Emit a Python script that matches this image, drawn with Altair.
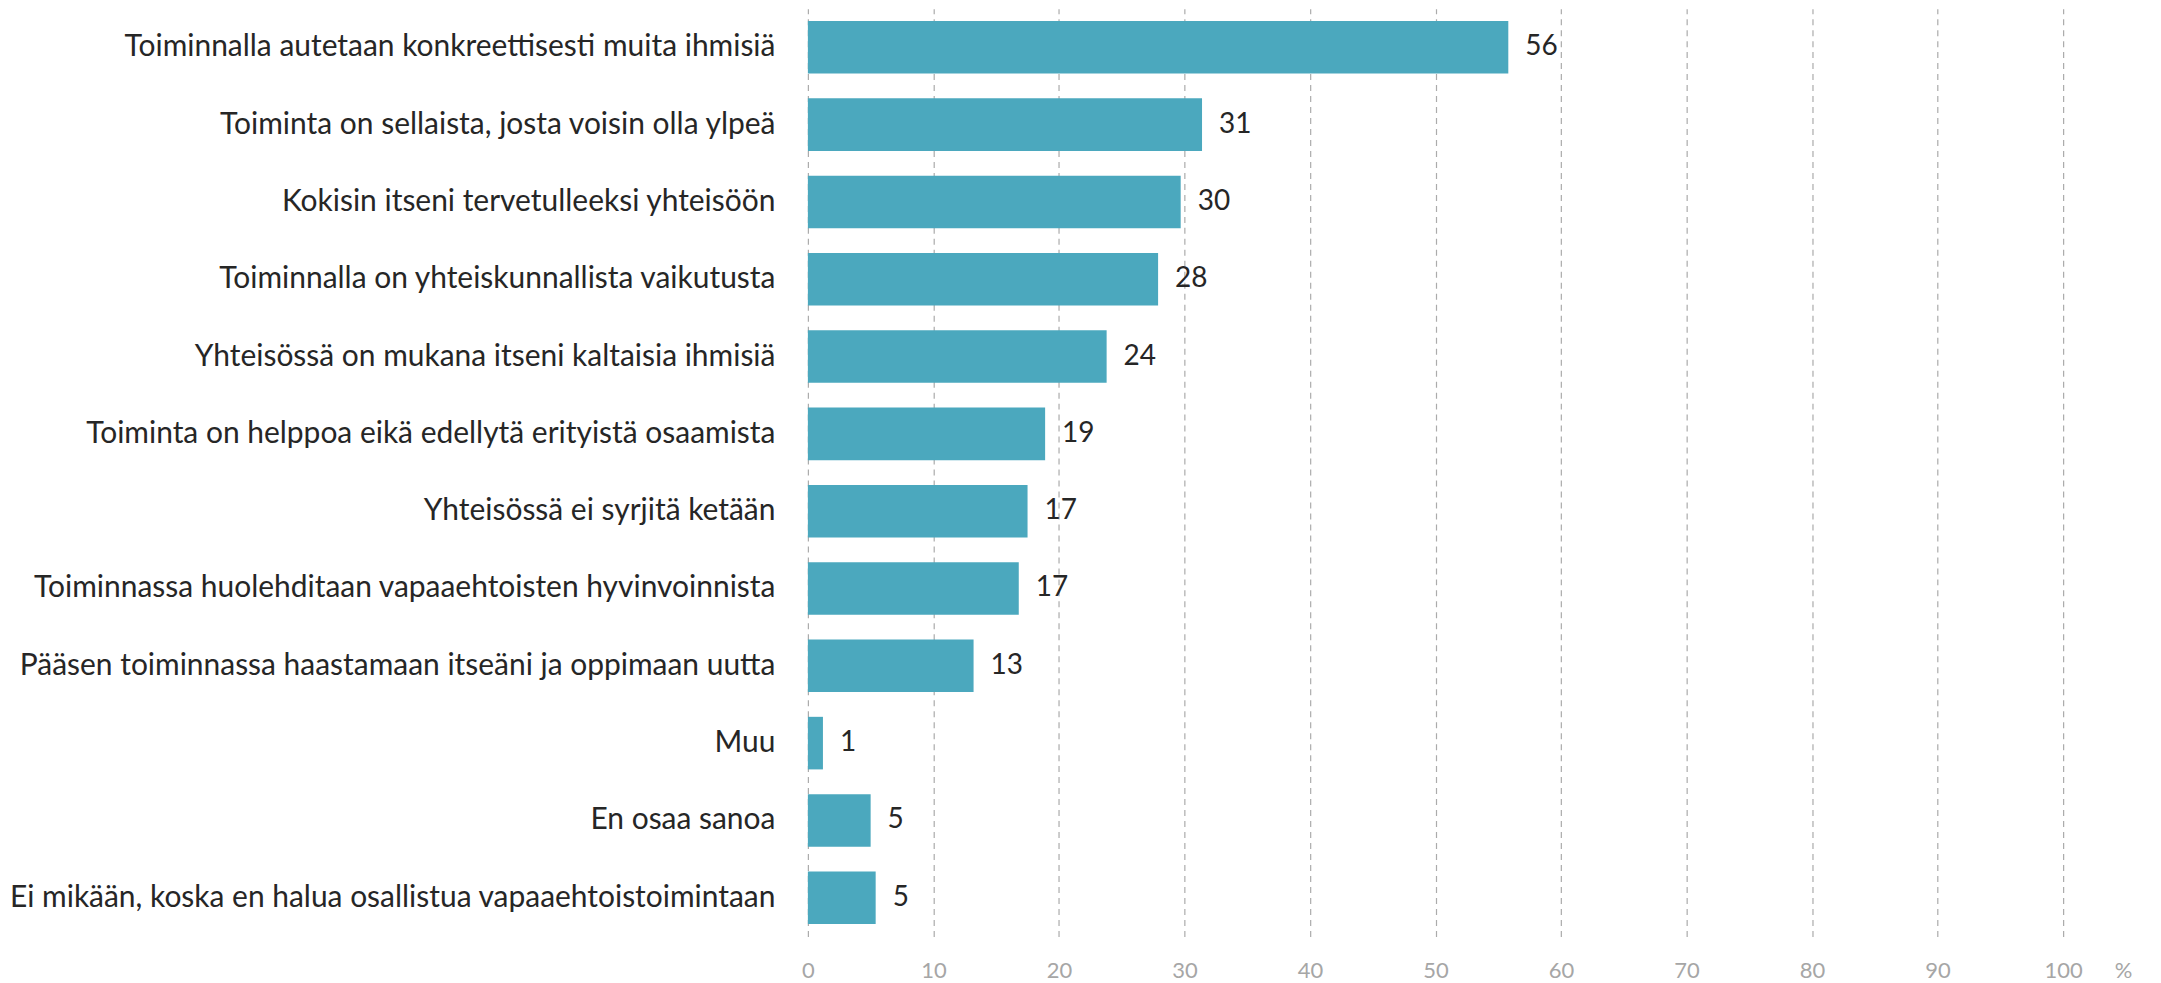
import altair as alt
import pandas as pd

categories = [
    "Toiminnalla autetaan konkreettisesti muita ihmisiä",
    "Toiminta on sellaista, josta voisin olla ylpeä",
    "Kokisin itseni tervetulleeksi yhteisöön",
    "Toiminnalla on yhteiskunnallista vaikutusta",
    "Yhteisössä on mukana itseni kaltaisia ihmisiä",
    "Toiminta on helppoa eikä edellytä erityistä osaamista",
    "Yhteisössä ei syrjitä ketään",
    "Toiminnassa huolehditaan vapaaehtoisten hyvinvoinnista",
    "Pääsen toiminnassa haastamaan itseäni ja oppimaan uutta",
    "Muu",
    "En osaa sanoa",
    "Ei mikään, koska en halua osallistua vapaaehtoistoimintaan",
]
values = [55.8, 31.4, 29.7, 27.9, 23.8, 18.9, 17.5, 16.8, 13.2, 1.2, 5.0, 5.4]
labels = ["56", "31", "30", "28", "24", "19", "17", "17", "13", "1", "5", "5"]
x_ticks = [0, 10, 20, 30, 40, 50, 60, 70, 80, 90, 100]

df = pd.DataFrame({"cat": categories, "val": values, "lab": labels})

FONT = "Lato"

y_axis = alt.Axis(
    ticks=False, domain=False, grid=False, labelPadding=33, labelLimit=0,
    labelFont=FONT, labelFontSize=30, labelColor="#262626",
)
x_axis = alt.Axis(
    values=x_ticks, ticks=False, domain=False, grid=True, labelFlush=False,
    gridDash=[6, 5], gridColor="#ababab", gridWidth=1.2,
    labelFont=FONT, labelFontSize=22, labelColor="#a6a6a6",
    labelPadding=34, labelBaseline="middle",
    title="%", titleFont=FONT, titleFontSize=22, titleColor="#a6a6a6",
    titleFontWeight="normal", titleX=1317, titleY=34, titleBaseline="middle",
    titleAlign="center",
)

x_enc = alt.X("val:Q", scale=alt.Scale(domain=[0, 100], nice=False), axis=x_axis)
y_enc = alt.Y(
    "cat:N", sort=categories, title=None,
    scale=alt.Scale(paddingInner=0.32, paddingOuter=0.16), axis=y_axis,
)

bars = alt.Chart(df).mark_bar(color="#4ba8be").encode(x=x_enc, y=y_enc)
text = alt.Chart(df).mark_text(
    align="left", baseline="middle", dx=17, font=FONT, fontSize=28, color="#262626"
).encode(x=x_enc, y=y_enc, text="lab:N")

chart = (
    alt.layer(bars, text)
    .properties(
        width=1257,
        height=929,
        autosize=alt.AutoSizeParams(type="none"),
        padding={"left": 801, "top": 0, "right": 90, "bottom": 46},
    )
    .configure_view(strokeWidth=0, stroke="transparent")
    .configure_axis(domain=False, ticks=False)
    .configure(background="white", style={"cell": {"stroke": "transparent", "strokeWidth": 0}})
)

chart.save("out.html", embed_options={"renderer": "svg", "actions": False})
